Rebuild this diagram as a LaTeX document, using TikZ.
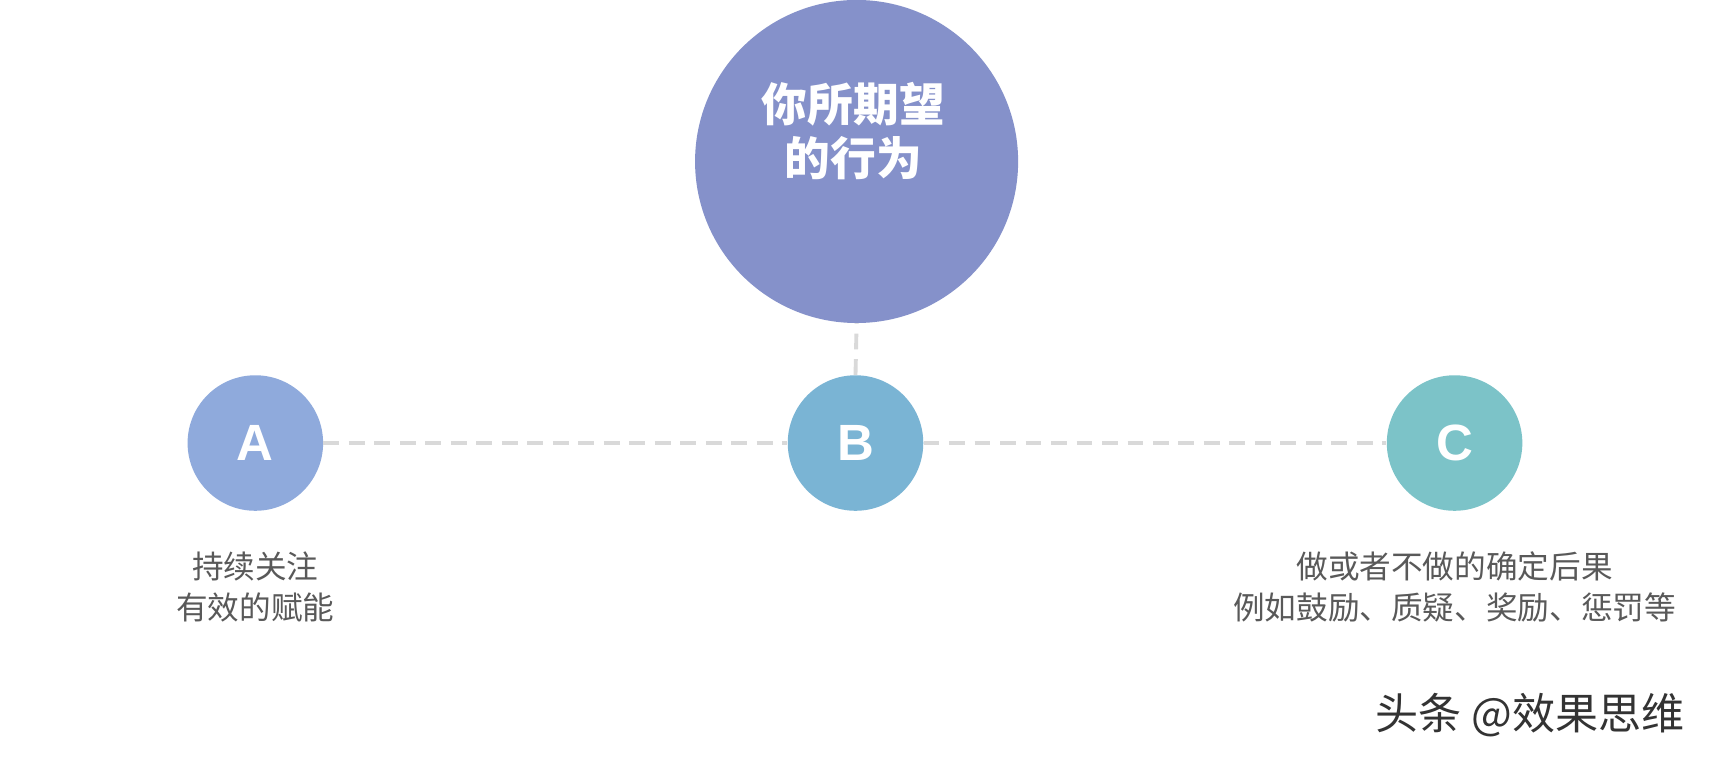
\documentclass[tikz,border=0pt]{standalone}
\usepackage{fontspec}
\setmainfont{Liberation Sans}
\newfontfamily\cjk{Noto Sans CJK SC}
\usetikzlibrary{positioning}
\definecolor{goalBlue}{HTML}{8591CA}
\definecolor{aBlue}{HTML}{8FAADC}
\definecolor{bBlue}{HTML}{7AB4D4}
\definecolor{cTeal}{HTML}{7CC3C8}
\definecolor{lineGray}{HTML}{D9D9D9}
\definecolor{textGray}{HTML}{595959}
\tikzset{%
  % Specifications for style of nodes:
     stage/.style = {circle, minimum size=2.71cm, inner sep=0pt,
                     text=white, font=\fontsize{29}{29}\selectfont\bfseries},
      note/.style = {align=center, text=textGray,
                     font=\cjk\fontsize{18}{23.5}\selectfont},
  linkLine/.style = {draw=lineGray, line width=2.2pt, dash pattern=on 9pt off 5.5pt},
}
\begin{document}
\begin{tikzpicture}[x=0.021824cm, y=-0.021824cm]
  \fill[white] (0,0) rectangle (1568,697);
  \useasboundingbox (0,0) rectangle (1568,697);
  % Specification of nodes (position, etc.)
\node (goal) at (785,148) [circle, fill=goalBlue, minimum size=6.46cm, inner sep=0pt] {};
\node (goalText) at (782,120) [text=white, align=center,
   font=\cjk\bfseries\fontsize{26}{31}\selectfont] {你所期望\\的行为};
\node (stageA) at (234,406) [stage, fill=aBlue] {A};
\node (stageB) at (784,406) [stage, fill=bBlue] {B};
\node (stageC) at (1333,406) [stage, fill=cTeal] {C};

\draw[linkLine] (stageA) -- (stageB);
\draw[linkLine] (stageB) -- (stageC);
\draw[linkLine] (stageB.north) -- (goal.south);

\node (noteA) at (234,538) [note] {持续关注\\有效的赋能};
\node (noteC) at (1333,538) [note] {做或者不做的确定后果\\例如鼓励、质疑、奖励、惩罚等};

\node (mark) at (1402,655) [text=black!80, font=\cjk\fontsize{24.5}{24.5}\selectfont] {头条 @效果思维};
\end{tikzpicture}
\end{document}
